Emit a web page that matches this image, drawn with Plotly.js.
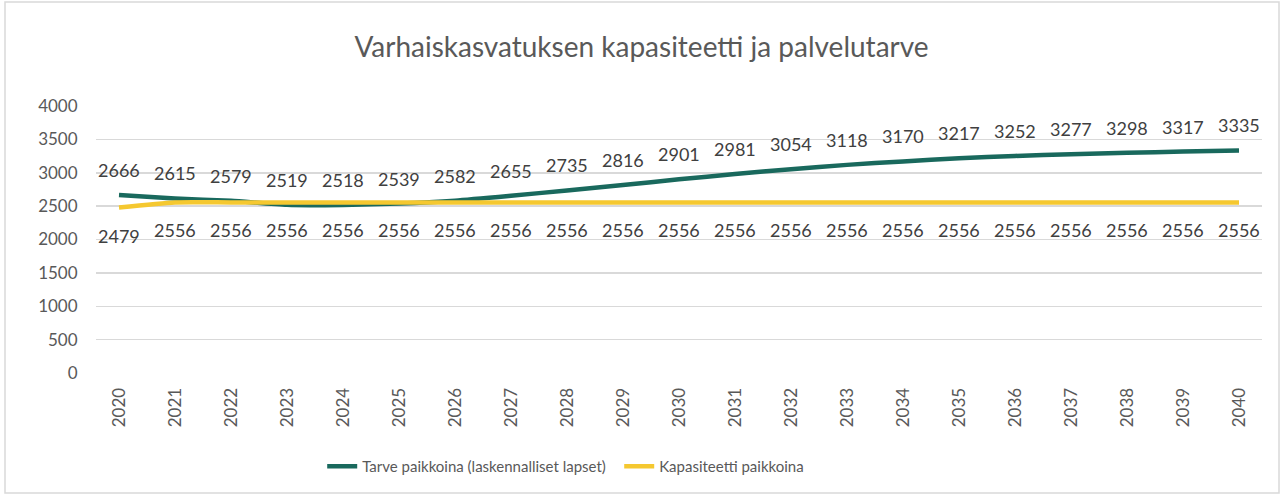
<!DOCTYPE html>
<html><head><meta charset="utf-8">
<script src="https://cdn.plot.ly/plotly-3.0.1.min.js"></script>
<style>html,body{margin:0;padding:0;background:#fff}#c{width:1283px;height:496px}</style>
</head><body><div id="c"></div>
<script>
const years = ['2020','2021','2022','2023','2024','2025','2026','2027','2028','2029','2030','2031','2032','2033','2034','2035','2036','2037','2038','2039','2040'];
const tarve = [2666,2615,2579,2519,2518,2539,2582,2655,2735,2816,2901,2981,3054,3118,3170,3217,3252,3277,3298,3317,3335];
const kapasiteetti = [2479,2556,2556,2556,2556,2556,2556,2556,2556,2556,2556,2556,2556,2556,2556,2556,2556,2556,2556,2556,2556];
const seriesNames = ['Tarve paikkoina (laskennalliset lapset)','Kapasiteetti paikkoina'];
const green = '#19695d', yellow = '#f5c830';
const font = 'Lato, "Open Sans", sans-serif';

const traces = [
  {x: years, y: tarve, name: seriesNames[0], type:'scatter', mode:'lines',
   line:{color:green, width:4.5, shape:'spline', smoothing:0.6}},
  {x: years, y: kapasiteetti, name: seriesNames[1], type:'scatter', mode:'lines',
   line:{color:yellow, width:4.5, shape:'spline', smoothing:0.6}}
];
const annotations = [];
years.forEach((yr,i)=>{
  annotations.push({x:i, y:tarve[i], text:String(tarve[i]), showarrow:false, yshift:25, font:{size:18, color:'#404040', family:font}});
  annotations.push({x:i, y:kapasiteetti[i], text:String(kapasiteetti[i]), showarrow:false, yshift:-28, font:{size:18, color:'#404040', family:font}});
});
const layout = {
  width:1283, height:496,
  margin:{l:96, r:21, t:106, b:123, autoexpand:false},
  paper_bgcolor:'#fff', plot_bgcolor:'#fff',
  font:{family:font, color:'#595959'},
  title:{text:'Varhaiskasvatuksen kapasiteetti ja palvelutarve', x:0.5, xanchor:'center', y:0.905, yanchor:'middle', font:{size:28, color:'#595959', family:font}},
  xaxis:{type:'category', automargin:false, tickangle:-90, tickfont:{size:17, color:'#595959'}, showgrid:false, zeroline:false, showline:false, ticks:'outside', ticklen:7, tickcolor:'rgba(0,0,0,0)'},
  yaxis:{range:[0,4000], automargin:false, dtick:500, tickfont:{size:17, color:'#595959'}, gridcolor:'#d9d9d9', gridwidth:1.5, zeroline:false, showline:false, ticks:'outside', ticklen:14, tickcolor:'rgba(0,0,0,0)'},
  showlegend:true,
  legend:{orientation:'h', x:0.194, xanchor:'left', y:-0.35, yanchor:'middle', font:{size:15, color:'#595959', family:font}, entrywidth:252, entrywidthmode:'pixels'},
  annotations: annotations,
  shapes:[{type:'rect', xref:'paper', yref:'paper', x0:-91/1166, x1:1+17/1166, y0:-120/267, y1:1+104/267, line:{color:'#d9d9d9', width:1.5}, fillcolor:'rgba(0,0,0,0)'}]
};
Plotly.newPlot('c', traces, layout, {displayModeBar:false, staticPlot:true});
</script></body></html>
